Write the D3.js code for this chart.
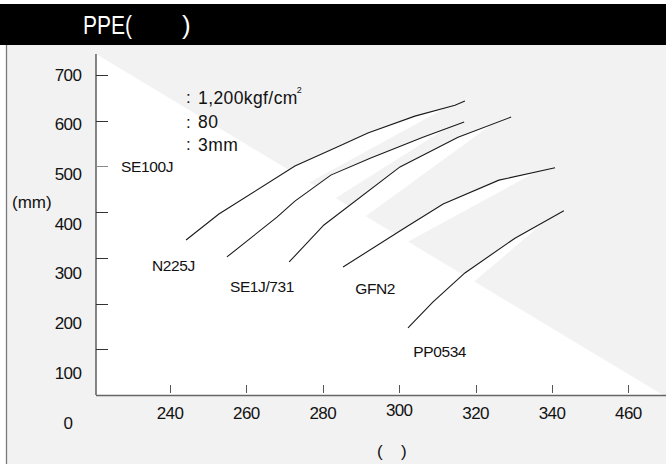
<!DOCTYPE html>
<html>
<head>
<meta charset="utf-8">
<script src="https://cdn.jsdelivr.net/npm/d3@7"></script>
<style>
html, body { margin: 0; padding: 0; background: #fff; }
svg { display: block; font-family: "Liberation Sans", Arial, sans-serif; }
</style>
</head>
<body>
<div id="chart"></div>
<script>
// flow length (mm) vs cylinder temperature, per grade
const seriesNames = ['SE100J', 'N225J', 'SE1J/731', 'GFN2', 'PP0534'];

const tempSE100J = [244.2, 252.8, 272.7, 284.5, 291.8, 304.1, 314.6, 317.2];
const flowSE100J = [339, 396, 501, 545, 573, 610, 634, 643];

const tempN225J = [254.9, 268.0, 272.7, 282.1, 292.4, 306.2, 317.0];
const flowN225J = [302, 389, 424, 481, 518, 564, 597];

const tempSE1J = [271.2, 280.3, 300.2, 315.4, 329.3];
const flowSE1J = [291, 372, 499, 564, 608];

const tempGFN2 = [285.3, 301.0, 311.5, 326.1, 340.8];
const flowGFN2 = [280, 363, 418, 470, 497];

const tempPP0534 = [302.3, 308.8, 317.2, 330.3, 343.1];
const flowPP0534 = [147, 203, 267, 343, 403];

// where each name sits, in chart units [temp, mm]
const labelTemp = [227.2, 235.3, 255.7, 288.5, 303.7];
const labelFlow = [500, 284, 238, 232, 96];

const xTickValues = [240, 260, 280, 300, 320, 340, 360];
const xTickLabels = ['240', '260', '280', '300', '320', '340', '460'];
const yTickValues = [100, 200, 300, 400, 500, 600, 700];
const yLabelValues = [0, 100, 200, 300, 400, 500, 600, 700];

const conditions = ['1,200kgf/cm', '80', '3mm'];
const conditionFlow = [650, 597, 547];

const series = seriesNames.map((name, i) => {
    const temps = [tempSE100J, tempN225J, tempSE1J, tempGFN2, tempPP0534][i];
    const flows = [flowSE100J, flowN225J, flowSE1J, flowGFN2, flowPP0534][i];
    return {
        name: name,
        points: temps.map((t, j) => [t, flows[j]]),
        label: [labelTemp[i], labelFlow[i]]
    };
});

const W = 666, H = 464;
const plotL = 96, plotR = 666, plotT = 54, plotB = 395;

const x = d3.scaleLinear().domain([240, 340]).range([170, 552]);
const y = d3.scaleLinear().domain([0, 700]).range([plotB, 75]);
// tick labels drift away from the tick marks in the original
const yLab = d3.scaleLinear().domain([0, 700]).range([423, 75]);

const svg = d3.select('#chart').append('svg')
    .attr('width', W).attr('height', H);

svg.append('rect').attr('width', W).attr('height', H).attr('fill', '#fff');
svg.append('rect').attr('x', 6).attr('y', 45).attr('width', W - 6).attr('height', H - 45)
    .attr('fill', '#f2f2f2');
svg.append('line').attr('x1', 6.5).attr('x2', 6.5).attr('y1', 45).attr('y2', H)
    .attr('stroke', '#7a7a7a').attr('stroke-width', 1.3);

// title bar
svg.append('rect').attr('x', 0).attr('y', 4).attr('width', W).attr('height', 41)
    .attr('fill', '#000');
svg.append('text').attr('x', 83).attr('y', 34).attr('fill', '#fff')
    .attr('font-size', 26).attr('textLength', 49).attr('lengthAdjust', 'spacingAndGlyphs')
    .text('PPE(');
svg.append('text').attr('x', 182).attr('y', 34).attr('fill', '#fff')
    .attr('font-size', 26).text(')');

// white lower triangle of the plot
const diagEndX = 663;
svg.append('path')
    .attr('d', `M${plotL},${plotT}L${diagEndX},${plotB}L${plotL},${plotB}Z`)
    .attr('fill', '#fff');

// white shadow strip under each curve
const line = d3.line().x(d => x(d[0])).y(d => y(d[1]));
series.forEach(s => {
    const pts = s.points;
    const tipT = pts[pts.length - 1][0] - 5;
    const interp = d3.scaleLinear().domain(pts.map(p => p[0])).range(pts.map(p => p[1]));
    const upper = pts.filter(p => p[0] < tipT).map(p => [x(p[0]), y(p[1])]);
    const tip = [x(tipT), y(interp(tipT))];
    const start = [x(pts[0][0]), y(pts[0][1]) + 10];
    const poly = upper.concat([tip, start]);
    svg.append('path')
        .attr('d', 'M' + poly.map(p => p.join(',')).join('L') + 'Z')
        .attr('fill', '#fff');
});

// axes
svg.append('line').attr('x1', plotL).attr('x2', plotL).attr('y1', plotT).attr('y2', plotB)
    .attr('stroke', '#111').attr('stroke-width', 1);
svg.append('line').attr('x1', plotL).attr('x2', plotR).attr('y1', plotB + 0.5).attr('y2', plotB + 0.5)
    .attr('stroke', '#666').attr('stroke-width', 1.6);

svg.selectAll('.ytick').data(yTickValues).enter().append('line')
    .attr('class', 'ytick')
    .attr('x1', plotL).attr('x2', plotL + 12)
    .attr('y1', d => Math.round(y(d)) + 0.5).attr('y2', d => Math.round(y(d)) + 0.5)
    .attr('stroke', d => d === 500 ? '#8a8a8a' : '#333').attr('stroke-width', 1);

svg.selectAll('.xtick').data(xTickValues).enter().append('line')
    .attr('class', 'xtick')
    .attr('x1', d => Math.round(x(d)) + 0.5).attr('x2', d => Math.round(x(d)) + 0.5)
    .attr('y1', plotB - 10).attr('y2', plotB - 2)
    .attr('stroke', '#555').attr('stroke-width', 1);

svg.selectAll('.ylab').data(yLabelValues).enter().append('text')
    .attr('class', 'ylab')
    .attr('x', 68).attr('y', d => yLab(d))
    .attr('text-anchor', 'middle').attr('dominant-baseline', 'central')
    .attr('font-size', 17).attr('letter-spacing', -0.6).attr('fill', '#111')
    .text(d => d);

svg.selectAll('.xlab').data(xTickValues).enter().append('text')
    .attr('class', 'xlab')
    .attr('x', d => x(d)).attr('y', (d, i) => i === 3 ? 410 : 413)
    .attr('text-anchor', 'middle').attr('dominant-baseline', 'central')
    .attr('font-size', 17).attr('letter-spacing', -0.6).attr('fill', '#111')
    .text((d, i) => xTickLabels[i]);

svg.append('text').attr('x', 12).attr('y', 202).attr('dominant-baseline', 'central')
    .attr('font-size', 17).attr('fill', '#111').text('(mm)');
svg.append('text').attr('x', 377).attr('y', 451).attr('dominant-baseline', 'central')
    .attr('font-size', 17).attr('fill', '#111').text('(');
svg.append('text').attr('x', 401).attr('y', 451).attr('dominant-baseline', 'central')
    .attr('font-size', 17).attr('fill', '#111').text(')');

// molding conditions
const condX = x(244.2);
conditions.forEach((c, i) => {
    svg.append('text').attr('x', condX).attr('y', y(conditionFlow[i]))
        .attr('dominant-baseline', 'central').attr('font-size', 17).attr('fill', '#111')
        .text(':');
    const t = svg.append('text').attr('x', condX + 12).attr('y', y(conditionFlow[i]))
        .attr('dominant-baseline', 'central').attr('font-size', 17.5)
        .attr('letter-spacing', 0.4).attr('fill', '#111')
        .text(c);
    if (i === 0) {
        t.append('tspan').attr('dx', -1).attr('dy', -8).attr('font-size', 9).text('2');
    }
});

// curves
svg.selectAll('.curve').data(series).enter().append('path')
    .attr('class', 'curve')
    .attr('d', d => line(d.points))
    .attr('fill', 'none').attr('stroke', '#1a1a1a').attr('stroke-width', 1.1);

svg.selectAll('.name').data(series).enter().append('text')
    .attr('class', 'name')
    .attr('x', d => x(d.label[0])).attr('y', d => y(d.label[1]))
    .attr('dominant-baseline', 'central')
    .attr('font-size', 15.5).attr('letter-spacing', -0.4).attr('fill', '#111')
    .text(d => d.name);
</script>
</body>
</html>
